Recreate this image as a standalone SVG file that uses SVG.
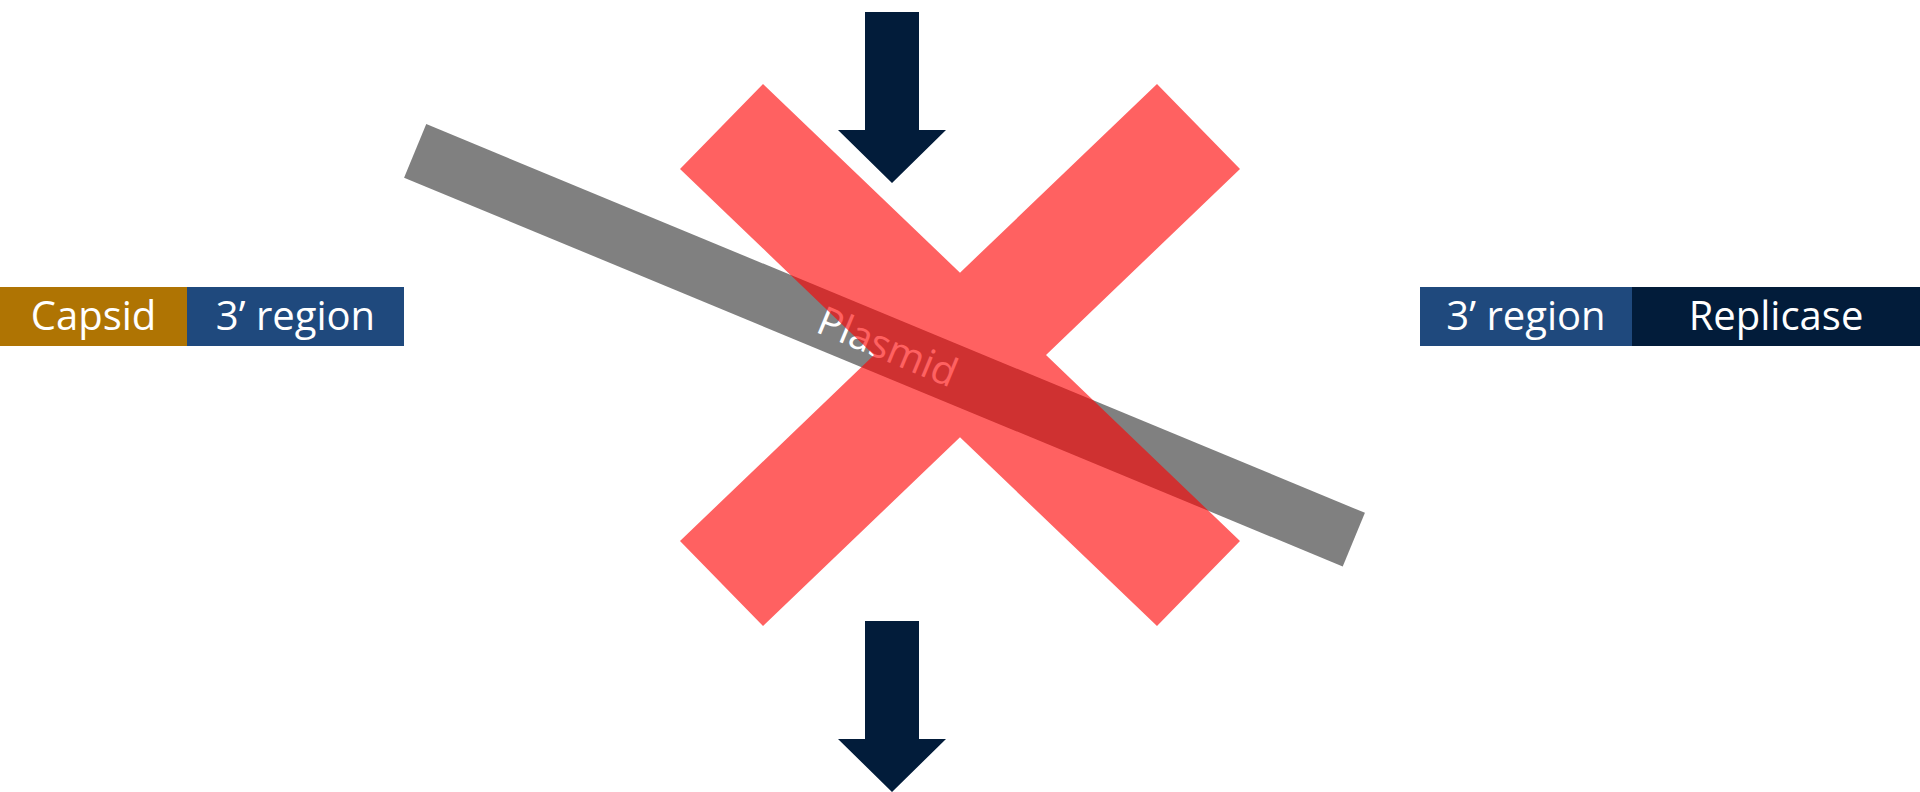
<svg xmlns="http://www.w3.org/2000/svg" width="1920" height="792" viewBox="0 0 1920 792">
  <style>
    .lbl { font-family: "Open Sans", "Liberation Sans", sans-serif; font-size: 40px; fill: #FFFFFF; text-anchor: middle; }
    .capsid { fill: #AF7403; }
    .three { fill: #1F497D; }
    .navy { fill: #021C3A; }
    .plasmid { fill: #808080; }
    .cross { fill: #FF0000; fill-opacity: 0.62; }
  </style>
  <rect x="0" y="0" width="1920" height="792" fill="#FFFFFF"/>

  <g id="capsid">
    <rect class="capsid" x="0" y="287" width="187" height="59"/>
    <text class="lbl" x="93.5" y="330">Capsid</text>
  </g>
  <g id="left-3prime">
    <rect class="three" x="187" y="287" width="217" height="59"/>
    <text class="lbl" x="295.5" y="330">3’ region</text>
  </g>
  <g id="right-3prime">
    <rect class="three" x="1420" y="287" width="212" height="59"/>
    <text class="lbl" x="1526" y="330">3’ region</text>
  </g>
  <g id="replicase">
    <rect class="navy" x="1632" y="287" width="288" height="59"/>
    <text class="lbl" x="1776" y="330">Replicase</text>
  </g>

  <g id="plasmid" transform="rotate(22.5 884.5 345.25)">
    <rect class="plasmid" x="376.5" y="316.25" width="1016" height="58"/>
    <text class="lbl" x="888" y="359.5">Plasmid</text>
  </g>

  <g id="cross">
    <polygon class="cross" points="763,84 960,272.7 1157,84 1240,169 1046,355 1240,541 1157,626 960,437.3 763,626 680,541 874,355 680,169"/>
  </g>

  <g id="connectors">
    <polygon class="navy" points="865,12 919,12 919,130 946,130 892,183 838,130 865,130"/>
    <polygon class="navy" points="865,621 919,621 919,739 946,739 892,792 838,739 865,739"/>
  </g>
</svg>
